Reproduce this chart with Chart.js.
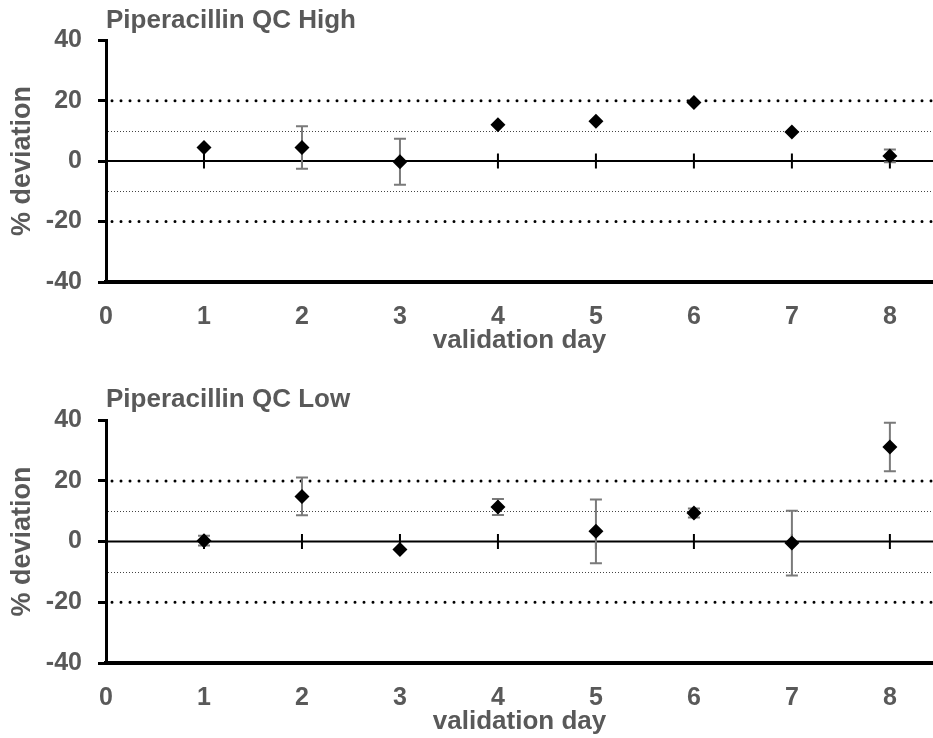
<!DOCTYPE html>
<html>
<head>
<meta charset="utf-8">
<title>Piperacillin QC</title>
<script src="https://cdn.jsdelivr.net/npm/chart.js@4.4.1/dist/chart.umd.min.js"></script>
<style>
  html, body { margin: 0; padding: 0; background: #fff; }
  .panel { position: absolute; left: 0; width: 933px; height: 369px; }
  #panelHigh { top: 0; }
  #panelLow { top: 369px; }
</style>
</head>
<body>
<div class="panel" id="panelHigh"><canvas id="chartHigh" width="933" height="369"></canvas></div>
<div class="panel" id="panelLow"><canvas id="chartLow" width="933" height="369"></canvas></div>
<script>
// validation days on the x axis
const days = [1, 2, 3, 4, 5, 6, 7, 8];
const xTicks = [0, 1, 2, 3, 4, 5, 6, 7, 8];
const yTicks = [-40, -20, 0, 20, 40];

// QC High: mean % deviation and its standard deviation per day (0 = no bar)
const highMean = [4.5, 4.5, -0.2, 12.0, 13.2, 19.4, 9.6, 1.7];
const highSd   = [0, 7.0, 7.6, 0, 0, 0, 0, 2.1];

// QC Low: mean % deviation and its standard deviation per day
const lowMean = [0.3, 14.9, -2.6, 11.4, 3.4, 9.4, -0.5, 31.2];
const lowSd   = [1.6, 6.2, 0, 2.6, 10.5, 1.5, 10.7, 8.0];

// acceptance limits: heavy dotted at ±20, fine dotted at ±10
const outerLimits = [20, -20];
const innerLimits = [10, -10];

const TEXT = '#595959';
const FONT = "'Liberation Sans', Arial, sans-serif";

// reference lines, zero line with its day ticks, and the SD whiskers
const qcGuides = {
  id: 'qcGuides',
  beforeDatasetsDraw(chart) {
    const { ctx, chartArea: a, scales: { x, y } } = chart;
    const sds = chart.options.plugins.qcGuides.sd;
    ctx.save();
    ctx.beginPath();
    ctx.rect(a.left, a.top - 20, a.right - a.left, a.bottom - a.top + 40);
    ctx.clip();

    // ±20 heavy round dots
    ctx.strokeStyle = '#000';
    ctx.lineWidth = 3;
    ctx.lineCap = 'round';
    ctx.setLineDash([0, 9]);
    outerLimits.forEach(v => {
      const py = y.getPixelForValue(v);
      ctx.beginPath();
      ctx.moveTo(a.left + 6, py);
      ctx.lineTo(a.right, py);
      ctx.stroke();
    });

    // ±10 fine dots
    ctx.lineCap = 'butt';
    ctx.lineWidth = 1;
    ctx.strokeStyle = '#444';
    ctx.setLineDash([1, 2]);
    innerLimits.forEach(v => {
      const py = Math.round(y.getPixelForValue(v)) + 0.5;
      ctx.beginPath();
      ctx.moveTo(a.left + 2, py);
      ctx.lineTo(a.right, py);
      ctx.stroke();
    });

    // zero line with ticks at each day
    ctx.setLineDash([]);
    ctx.strokeStyle = '#000';
    ctx.lineWidth = 2;
    const y0 = y.getPixelForValue(0);
    ctx.beginPath();
    ctx.moveTo(a.left, y0);
    ctx.lineTo(a.right, y0);
    ctx.stroke();
    days.forEach(d => {
      const px = x.getPixelForValue(d);
      ctx.beginPath();
      ctx.moveTo(px, y0 - 7.5);
      ctx.lineTo(px, y0 + 7.5);
      ctx.stroke();
    });

    // standard deviation whiskers
    const means = chart.data.datasets[0].data;
    ctx.strokeStyle = '#7a7a7a';
    ctx.lineWidth = 2;
    means.forEach((p, i) => {
      const sd = sds[i];
      if (!sd) return;
      const px = x.getPixelForValue(p.x);
      const hi = y.getPixelForValue(p.y + sd);
      const lo = y.getPixelForValue(p.y - sd);
      ctx.beginPath();
      ctx.moveTo(px, hi); ctx.lineTo(px, lo);
      ctx.moveTo(px - 6, hi); ctx.lineTo(px + 6, hi);
      ctx.moveTo(px - 6, lo); ctx.lineTo(px + 6, lo);
      ctx.stroke();
    });
    ctx.restore();
  }
};

function makeChart(canvasId, titleText, means, sds, titlePad, bottomPad) {
  return new Chart(document.getElementById(canvasId), {
    type: 'scatter',
    data: {
      datasets: [{
        data: days.map((d, i) => ({ x: d, y: means[i] })),
        pointStyle: 'rectRot',
        pointRadius: 7.5,
        pointHoverRadius: 7.5,
        backgroundColor: '#000',
        borderColor: '#000',
        borderWidth: 0
      }]
    },
    options: {
      responsive: false,
      animation: false,
      devicePixelRatio: 1,
      layout: { autoPadding: false, padding: { left: 0, right: 0, top: 0, bottom: bottomPad } },
      plugins: {
        legend: { display: false },
        tooltip: { enabled: false },
        title: {
          display: true,
          text: titleText,
          align: 'start',
          fullSize: false,
          color: TEXT,
          font: { family: FONT, size: 26, weight: 'bold', lineHeight: 1.2 },
          padding: titlePad
        },
        qcGuides: { sd: sds }
      },
      scales: {
        x: {
          type: 'linear',
          min: 0,
          max: 8.44,
          afterBuildTicks(scale) { scale.ticks = xTicks.map(v => ({ value: v })); },
          afterFit(scale) {
            scale.height = 72;
            scale.paddingLeft = 0;
            scale.paddingRight = 0;
          },
          grid: { display: false, drawTicks: false },
          border: { display: true, color: '#000', width: 4 },
          ticks: {
            autoSkip: false,
            padding: 20,
            color: TEXT,
            font: { family: FONT, size: 25, weight: 'bold' }
          },
          title: {
            display: true,
            text: 'validation day',
            color: TEXT,
            padding: { top: 0, bottom: 0 },
            font: { family: FONT, size: 26, weight: 'bold', lineHeight: 1 }
          }
        },
        y: {
          min: -40,
          max: 40,
          afterBuildTicks(scale) { scale.ticks = yTicks.map(v => ({ value: v })); },
          afterFit(scale) { scale.width = 106; },
          grid: {
            display: true,
            drawOnChartArea: false,
            drawTicks: true,
            tickLength: 8,
            tickColor: '#000',
            tickWidth: 3,
            color: '#000',
            lineWidth: 3
          },
          border: { display: true, color: '#000', width: 3 },
          ticks: {
            padding: 16,
            color: TEXT,
            font: { family: FONT, size: 25, weight: 'bold' }
          },
          title: {
            display: true,
            text: '% deviation',
            color: TEXT,
            padding: { top: 6, bottom: 0 },
            font: { family: FONT, size: 27, weight: 'bold', lineHeight: 1.2 }
          }
        }
      }
    },
    plugins: [qcGuides]
  });
}

makeChart('chartHigh', 'Piperacillin QC High', highMean, highSd, { top: 5, bottom: 4 }, 15);
makeChart('chartLow', 'Piperacillin QC Low', lowMean, lowSd, { top: 15, bottom: 5 }, 3);
</script>
</body>
</html>
